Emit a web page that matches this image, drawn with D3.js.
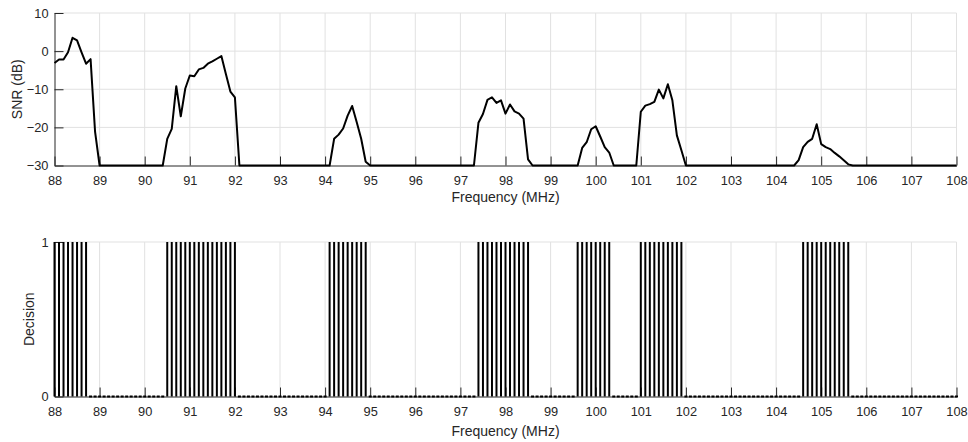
<!DOCTYPE html>
<html>
<head>
<meta charset="utf-8">
<script src="https://cdn.jsdelivr.net/npm/d3@7"></script>
<style>
body { margin: 0; background: #fff; }
text { font-family: "Liberation Sans", Arial, sans-serif; fill: #262626; }
.axis path, .axis line { stroke: #262626; }
.axis text { font-size: 12.8px; fill: #262626; }
.grid line { stroke: #e1e1e1; stroke-width: 1; }
.label { font-size: 14px; }
</style>
</head>
<body>
<script>
// frequency grid: 88 to 108 MHz in 0.1 MHz steps
var freqStart = 88;
var freqStep = 0.1;

// SNR (dB), one row per MHz (x.0 ... x.9), last value is 108.0
var snrDb = [
  -3.1, -2.2, -2.2, -0.3, 3.5, 2.8, -0.3, -3.3, -2.1, -21.2,        // 88
  -30, -30, -30, -30, -30, -30, -30, -30, -30, -30,                 // 89
  -30, -30, -30, -30, -30, -23, -20.4, -9.2, -17.1, -9.8,           // 90
  -6.4, -6.6, -4.8, -4.4, -3.3, -2.7, -2.0, -1.3, -6.0, -10.6,      // 91
  -12.1, -30, -30, -30, -30, -30, -30, -30, -30, -30,               // 92
  -30, -30, -30, -30, -30, -30, -30, -30, -30, -30,                 // 93
  -30, -30, -23, -21.9, -20.3, -16.9, -14.4, -18.6, -23, -29,       // 94
  -30, -30, -30, -30, -30, -30, -30, -30, -30, -30,                 // 95
  -30, -30, -30, -30, -30, -30, -30, -30, -30, -30,                 // 96
  -30, -30, -30, -30, -18.8, -16.5, -12.8, -12.1, -13.6, -12.9,     // 97
  -16.4, -14.0, -15.8, -16.4, -17.7, -28.4, -30, -30, -30, -30,     // 98
  -30, -30, -30, -30, -30, -30, -30, -25.4, -23.9, -20.5,           // 99
  -19.7, -22.4, -25.2, -26.6, -30, -30, -30, -30, -30, -30,         // 100
  -15.9, -14.3, -13.9, -13.3, -10.1, -12.4, -8.7, -12.9, -22.1, -26, // 101
  -30, -30, -30, -30, -30, -30, -30, -30, -30, -30,                 // 102
  -30, -30, -30, -30, -30, -30, -30, -30, -30, -30,                 // 103
  -30, -30, -30, -30, -30, -28.6, -25.2, -23.8, -23.0, -19.2,       // 104
  -24.4, -25.2, -25.7, -26.7, -27.6, -28.6, -29.7, -30, -30, -30,   // 105
  -30, -30, -30, -30, -30, -30, -30, -30, -30, -30,                 // 106
  -30, -30, -30, -30, -30, -30, -30, -30, -30, -30,                 // 107
  -30                                                               // 108
];

// occupancy decision, same layout as snrDb
var decision = [
  1, 1, 1, 1, 1, 1, 1, 1, 0, 0,   // 88
  0, 0, 0, 0, 0, 0, 0, 0, 0, 0,   // 89
  0, 0, 0, 0, 0, 1, 1, 1, 1, 1,   // 90
  1, 1, 1, 1, 1, 1, 1, 1, 1, 1,   // 91
  1, 0, 0, 0, 0, 0, 0, 0, 0, 0,   // 92
  0, 0, 0, 0, 0, 0, 0, 0, 0, 0,   // 93
  0, 1, 1, 1, 1, 1, 1, 1, 1, 1,   // 94
  0, 0, 0, 0, 0, 0, 0, 0, 0, 0,   // 95
  0, 0, 0, 0, 0, 0, 0, 0, 0, 0,   // 96
  0, 0, 0, 0, 1, 1, 1, 1, 1, 1,   // 97
  1, 1, 1, 1, 1, 1, 0, 0, 0, 0,   // 98
  0, 0, 0, 0, 0, 0, 1, 1, 1, 1,   // 99
  1, 1, 1, 1, 0, 0, 0, 0, 0, 0,   // 100
  1, 1, 1, 1, 1, 1, 1, 1, 1, 1,   // 101
  0, 0, 0, 0, 0, 0, 0, 0, 0, 0,   // 102
  0, 0, 0, 0, 0, 0, 0, 0, 0, 0,   // 103
  0, 0, 0, 0, 0, 0, 1, 1, 1, 1,   // 104
  1, 1, 1, 1, 1, 1, 1, 0, 0, 0,   // 105
  0, 0, 0, 0, 0, 0, 0, 0, 0, 0,   // 106
  0, 0, 0, 0, 0, 0, 0, 0, 0, 0,   // 107
  0                               // 108
];

var xTicks = d3.range(88, 109);
var snrTicks = [-30, -20, -10, 0, 10];
var decisionTicks = [0, 1];

var freqs = snrDb.map(function(d, i) { return +(freqStart + i * freqStep).toFixed(1); });

var svgWidth = 968;
var svgHeight = 442;

var svg = d3.select("body")
  .append("svg")
  .attr("width", svgWidth)
  .attr("height", svgHeight);

var xScale = d3.scaleLinear().domain([88, 108]).range([54.5, 956.5]);

// ---------- top panel: SNR ----------
var ySnr = d3.scaleLinear().domain([-30, 10]).range([165.5, 13]);

var topGrid = svg.append("g").classed("grid", true);
topGrid.selectAll(".v").data(xTicks.slice(1)).enter().append("line")
  .attr("x1", d => xScale(d)).attr("x2", d => xScale(d))
  .attr("y1", ySnr(10)).attr("y2", ySnr(-30));
topGrid.selectAll(".h").data(snrTicks.slice(1)).enter().append("line")
  .attr("x1", xScale(88)).attr("x2", xScale(108))
  .attr("y1", d => ySnr(d)).attr("y2", d => ySnr(d));

svg.append("g")
  .classed("axis", true)
  .attr("transform", "translate(0," + ySnr(-30) + ")")
  .call(d3.axisBottom(xScale).tickValues(xTicks).tickSizeInner(-9).tickSizeOuter(0).tickPadding(10));

svg.append("g")
  .classed("axis", true)
  .attr("transform", "translate(" + xScale(88) + ",0)")
  .call(d3.axisLeft(ySnr).tickValues(snrTicks).tickFormat(d3.format("d")).tickSizeInner(-9).tickSizeOuter(0).tickPadding(6));

var snrLine = d3.line()
  .x((d, i) => xScale(freqs[i]))
  .y(d => ySnr(d));

svg.append("path")
  .attr("d", snrLine(snrDb))
  .attr("fill", "none")
  .attr("stroke", "#000")
  .attr("stroke-width", 2)
  .attr("stroke-linejoin", "round");

svg.append("text").classed("label", true)
  .attr("x", (xScale(88) + xScale(108)) / 2).attr("y", 202)
  .attr("text-anchor", "middle")
  .text("Frequency (MHz)");

svg.append("text").classed("label", true)
  .attr("transform", "translate(22," + (ySnr(10) + ySnr(-30)) / 2 + ") rotate(-90)")
  .attr("text-anchor", "middle")
  .text("SNR (dB)");

// ---------- bottom panel: decision stems ----------
var yDec = d3.scaleLinear().domain([0, 1]).range([396.5, 242]);

var botGrid = svg.append("g").classed("grid", true);
botGrid.selectAll(".v").data(xTicks.slice(1)).enter().append("line")
  .attr("x1", d => xScale(d)).attr("x2", d => xScale(d))
  .attr("y1", yDec(1)).attr("y2", yDec(0));
botGrid.append("line")
  .attr("x1", xScale(88)).attr("x2", xScale(108))
  .attr("y1", yDec(1)).attr("y2", yDec(1));

svg.append("g")
  .classed("axis", true)
  .attr("transform", "translate(0," + yDec(0) + ")")
  .call(d3.axisBottom(xScale).tickValues(xTicks).tickSizeInner(-9).tickSizeOuter(0).tickPadding(10));

svg.append("g")
  .classed("axis", true)
  .attr("transform", "translate(" + xScale(88) + ",0)")
  .call(d3.axisLeft(yDec).tickValues(decisionTicks).tickFormat(d3.format("d")).tickSizeInner(-9).tickSizeOuter(0).tickPadding(6));

// stems with value 1
svg.append("g").selectAll("line")
  .data(decision.map((d, i) => ({f: freqs[i], v: d})).filter(d => d.v > 0))
  .enter().append("line")
  .attr("x1", d => xScale(d.f)).attr("x2", d => xScale(d.f))
  .attr("y1", yDec(0)).attr("y2", d => yDec(d.v))
  .attr("stroke", "#000")
  .attr("stroke-width", 2);

// zero-height stems show up as short dashes on the baseline
svg.append("g").selectAll("rect")
  .data(decision.map((d, i) => ({f: freqs[i], v: d})).filter(d => d.v === 0))
  .enter().append("rect")
  .attr("x", d => xScale(d.f) - 1.5)
  .attr("y", yDec(0) - 1)
  .attr("width", 3)
  .attr("height", 2)
  .attr("fill", "#000");

svg.append("text").classed("label", true)
  .attr("x", (xScale(88) + xScale(108)) / 2).attr("y", 436)
  .attr("text-anchor", "middle")
  .text("Frequency (MHz)");

svg.append("text").classed("label", true)
  .attr("transform", "translate(34," + (yDec(1) + yDec(0)) / 2 + ") rotate(-90)")
  .attr("text-anchor", "middle")
  .text("Decision");
</script>
</body>
</html>
